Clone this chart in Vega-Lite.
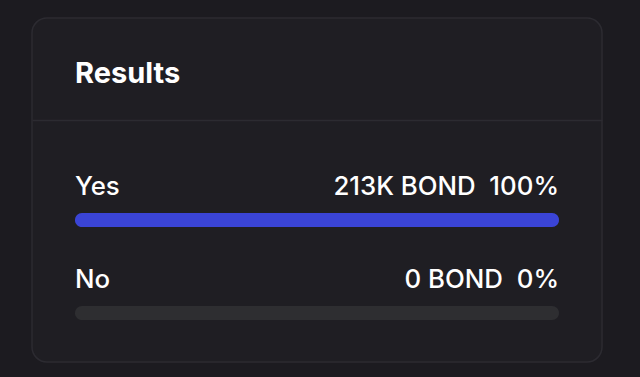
{
  "$schema": "https://vega.github.io/schema/vega-lite/v6.json",
  "width": 640,
  "height": 377,
  "autosize": {"type": "fit", "contains": "padding"},
  "padding": {"top": 18, "left": 32, "right": 38, "bottom": 15},
  "background": "#1c1b20",
  "config": {
    "view": {"fill": "#1f1e23", "stroke": "#2c2b31", "strokeWidth": 1.5, "cornerRadius": 15},
    "font": "Inter"
  },
  "title": {
    "text": "Results",
    "anchor": "start",
    "frame": "group",
    "orient": "top",
    "offset": 0,
    "baseline": "alphabetic",
    "dx": 43,
    "dy": 94,
    "fontSize": 29,
    "fontWeight": 700,
    "color": "#ffffff",
    "font": "Inter"
  },
  "data": {
    "values": [
      {"option": "Yes", "bond": "213K", "pct": 100, "total": 100},
      {"option": "No", "bond": "0", "pct": 0, "total": 100}
    ]
  },
  "transform": [
    {"calculate": "datum.bond + ' BOND\u00a0\u00a0' + datum.pct + '%'", "as": "summary"}
  ],
  "encoding": {
    "y": {
      "field": "option",
      "type": "nominal",
      "scale": {"type": "point", "domain": ["Yes", "No"], "range": [202, 295], "padding": 0},
      "axis": null
    }
  },
  "layer": [
    {
      "mark": {"type": "bar", "height": 14, "cornerRadius": 7, "color": "#2e2e31"},
      "encoding": {
        "x": {
          "field": "total",
          "type": "quantitative",
          "scale": {"domain": [-8.884, 108.884], "range": [0, 570], "nice": false, "zero": false},
          "axis": {
            "orient": "top",
            "offset": -102,
            "domain": true,
            "domainColor": "#2c2b31",
            "domainWidth": 1.5,
            "ticks": false,
            "labels": false,
            "grid": false,
            "title": null
          }
        }
      }
    },
    {
      "transform": [{"filter": "datum.pct > 0"}],
      "mark": {"type": "bar", "height": 14, "cornerRadius": 7, "color": "#3a44d6"},
      "encoding": {
        "x": {"field": "pct", "type": "quantitative"}
      }
    },
    {
      "mark": {"type": "text", "align": "left", "baseline": "alphabetic", "dy": -25, "fontSize": 25.8, "fontWeight": 500, "color": "#ffffff"},
      "encoding": {
        "x": {"datum": 0, "type": "quantitative"},
        "text": {"field": "option"}
      }
    },
    {
      "mark": {"type": "text", "align": "right", "baseline": "alphabetic", "dy": -25, "fontSize": 25.8, "fontWeight": 500, "color": "#ffffff"},
      "encoding": {
        "x": {"field": "total", "type": "quantitative"},
        "text": {"field": "summary"}
      }
    }
  ]
}
